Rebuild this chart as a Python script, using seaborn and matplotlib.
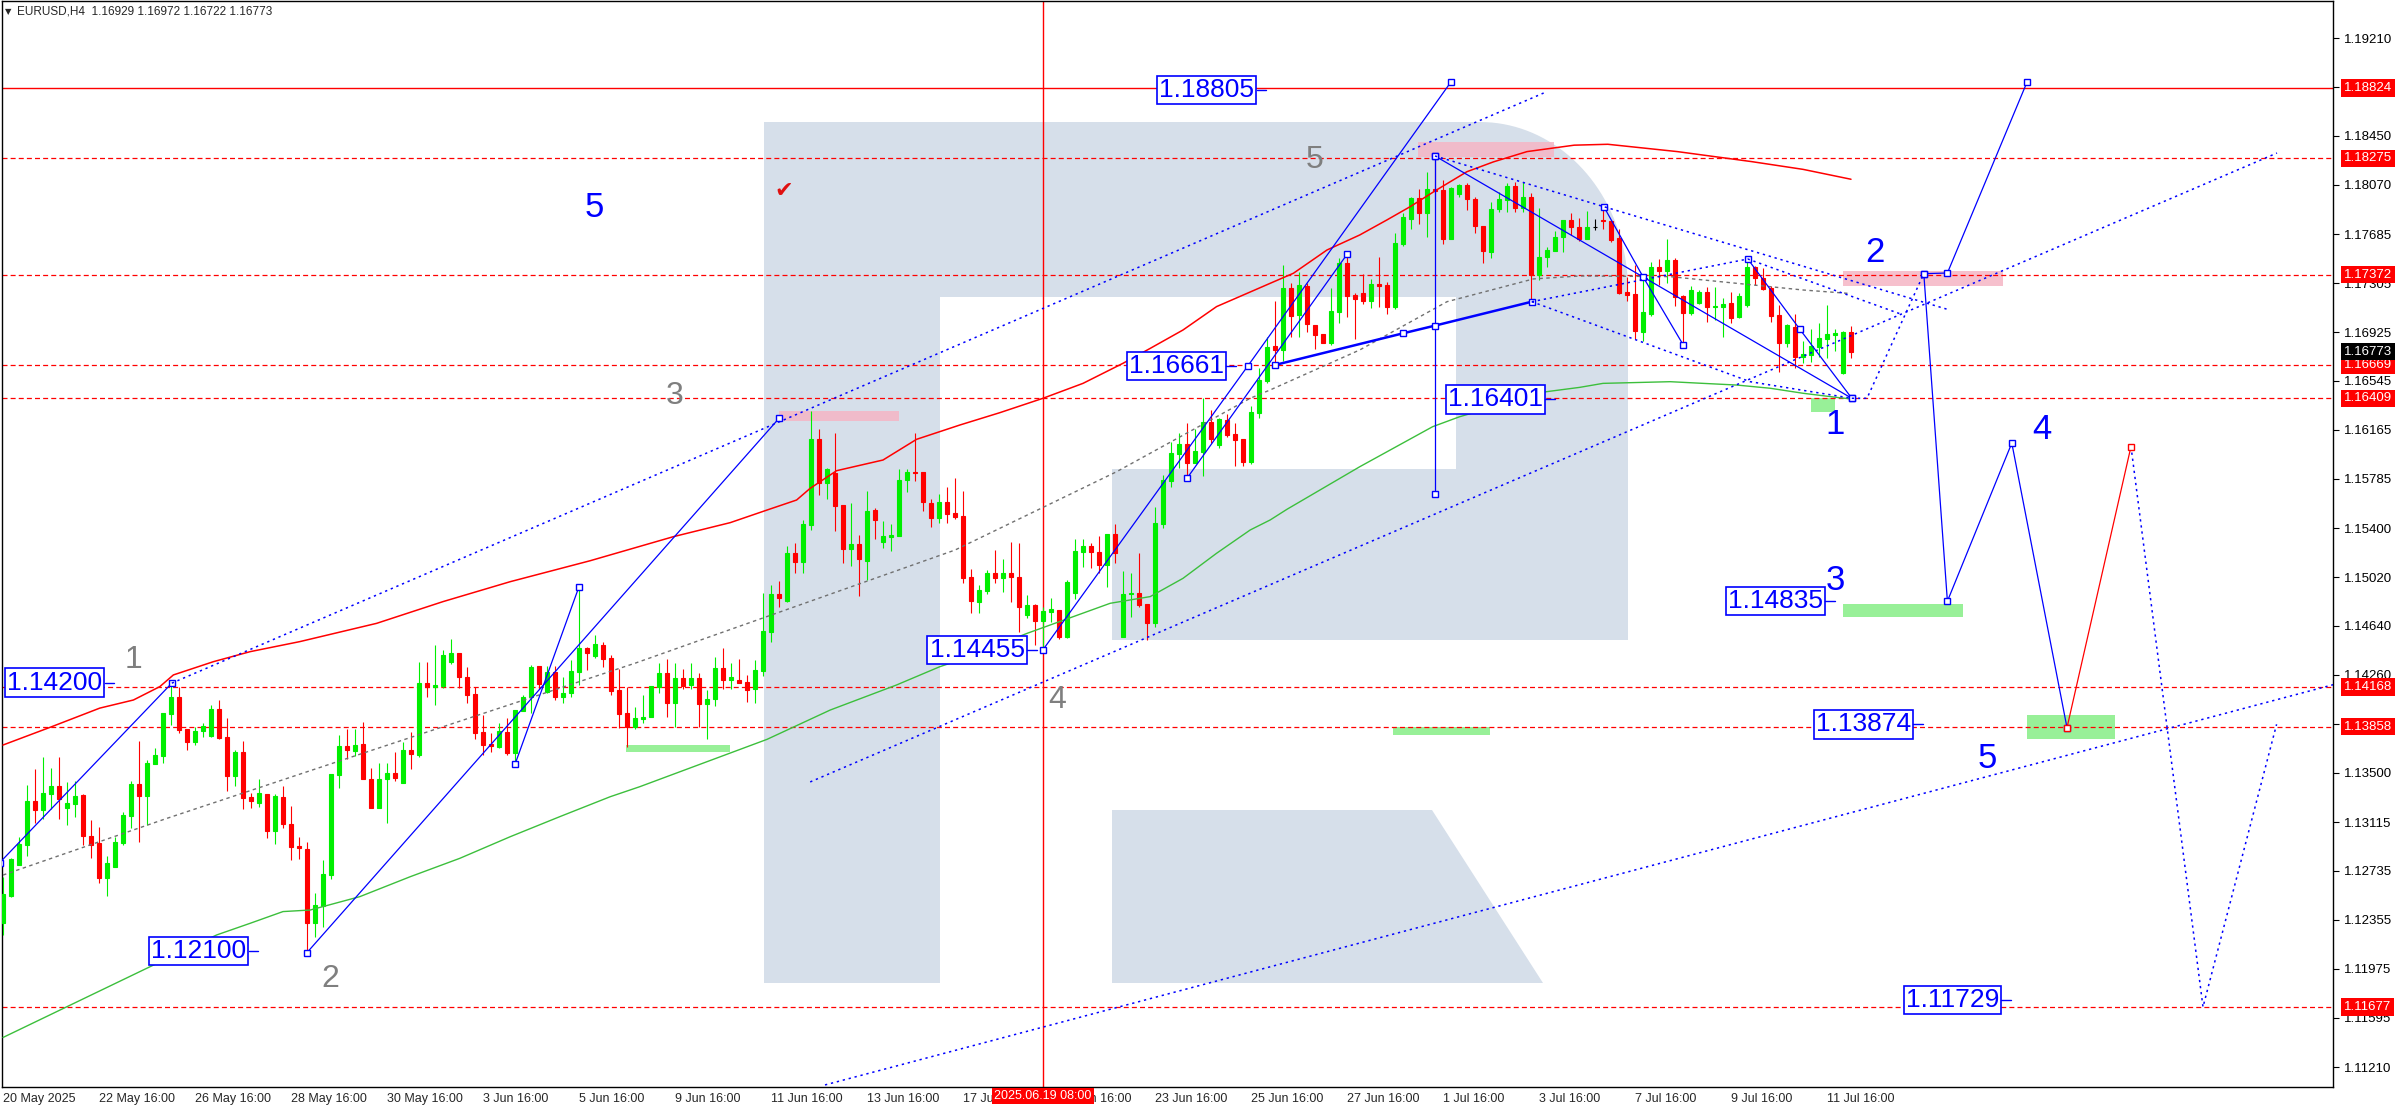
import numpy as np
import pandas as pd
import matplotlib
matplotlib.use("Agg")
import matplotlib.pyplot as plt
import matplotlib.transforms as mtransforms
from matplotlib.patches import Polygon, Rectangle
import seaborn as sns

# EURUSD H4 bars, index 0 = 20 May 2025 16:00
opens = [
    1.12333, 1.12543, 1.12781, 1.12939, 1.13279, 1.13209, 1.13333, 1.13395, 1.13227, 1.13258,
    1.13325, 1.13007, 1.12950, 1.12680, 1.12765, 1.12952, 1.13162, 1.13411, 1.13318, 1.13569,
    1.13629, 1.13955, 1.14087, 1.13839, 1.13740, 1.13823, 1.13784, 1.13992, 1.13774, 1.13473,
    1.13657, 1.13310, 1.13266, 1.13333, 1.13048, 1.13310, 1.13100, 1.12926, 1.12903, 1.12333,
    1.12465, 1.12703, 1.13481, 1.13706, 1.13668, 1.13722, 1.13450, 1.13227, 1.13450, 1.13494,
    1.13421, 1.13675, 1.13636, 1.14194, 1.14168, 1.14173, 1.14362, 1.14427, 1.14240, 1.14111,
    1.13813, 1.13725, 1.13701, 1.13818, 1.13655, 1.13981, 1.14085, 1.14329, 1.14129, 1.14284,
    1.14090, 1.14116, 1.14284, 1.14471, 1.14406, 1.14492, 1.14393, 1.14142, 1.13960, 1.13857,
    1.13919, 1.13929, 1.14168, 1.14271, 1.14043, 1.14238, 1.14181, 1.14238, 1.14031, 1.14069,
    1.14316, 1.14220, 1.14220, 1.14204, 1.14147, 1.14292, 1.14596, 1.14888, 1.14834, 1.15204,
    1.15137, 1.15425, 1.16094, 1.15749, 1.15832, 1.15580, 1.15238, 1.15277, 1.15145, 1.15541,
    1.15295, 1.15334, 1.15339, 1.15775, 1.15840, 1.15840, 1.15598, 1.15482, 1.15601, 1.15516,
    1.15495, 1.15018, 1.14829, 1.14914, 1.15054, 1.15010, 1.15054, 1.15018, 1.14725, 1.14803,
    1.14681, 1.14751, 1.14764, 1.14556, 1.14893, 1.15218, 1.15262, 1.15218, 1.15114, 1.15355,
    1.14556, 1.14886, 1.14899, 1.14811, 1.14665, 1.15433, 1.15770, 1.15977, 1.16055, 1.15910,
    1.15995, 1.16228, 1.16047, 1.16241, 1.16132, 1.16094, 1.15917, 1.16298, 1.16545, 1.16817,
    1.16786, 1.17270, 1.17058, 1.17283, 1.16980, 1.16910, 1.16837, 1.17084, 1.17465, 1.17213,
    1.17231, 1.17169, 1.17299, 1.17291, 1.17122, 1.17610, 1.17804, 1.17970, 1.17853, 1.18037,
    1.18030, 1.17646, 1.17996, 1.18069, 1.17957, 1.17750, 1.17550, 1.17879, 1.17952, 1.18061,
    1.17887, 1.17973, 1.17369, 1.17511, 1.17558, 1.17662, 1.17796, 1.17739, 1.17649, 1.17739,
    1.17796, 1.17789, 1.17654, 1.17234, 1.17221, 1.16928, 1.17065, 1.17428, 1.17402, 1.17485,
    1.17205, 1.17076, 1.17148, 1.17237, 1.17117, 1.17123, 1.17148, 1.17040, 1.17135, 1.17428,
    1.17348, 1.17270, 1.17058, 1.16843, 1.16967, 1.16734, 1.16747, 1.16812, 1.16871, 1.16902,
    1.16609, 1.16929,
]
highs = [
    1.12690, 1.12832, 1.13001, 1.13403, 1.13528, 1.13618, 1.13538, 1.13618, 1.13424, 1.13437,
    1.13330, 1.13131, 1.13079, 1.12851, 1.12996, 1.13196, 1.13437, 1.13745, 1.13598, 1.13688,
    1.13966, 1.14181, 1.14168, 1.13839, 1.13852, 1.13883, 1.14025, 1.14064, 1.13922, 1.13675,
    1.13748, 1.13344, 1.13447, 1.13333, 1.13333, 1.13398, 1.13240, 1.12996, 1.12963, 1.12566,
    1.12820, 1.13489, 1.13792, 1.13836, 1.13836, 1.13890, 1.13533, 1.13577, 1.13577, 1.13657,
    1.13740, 1.13813, 1.14362, 1.14362, 1.14492, 1.14453, 1.14539, 1.14427, 1.14323, 1.14168,
    1.13947, 1.13810, 1.13888, 1.13922, 1.13986, 1.14103, 1.14336, 1.14329, 1.14329, 1.14329,
    1.14246, 1.14375, 1.14945, 1.14480, 1.14570, 1.14518, 1.14414, 1.14305, 1.14163, 1.14007,
    1.14103, 1.14173, 1.14349, 1.14380, 1.14349, 1.14302, 1.14349, 1.14277, 1.14142, 1.14396,
    1.14466, 1.14354, 1.14380, 1.14258, 1.14375, 1.14893, 1.14958, 1.14989, 1.15264, 1.15282,
    1.15464, 1.16311, 1.16171, 1.15865, 1.16138, 1.15580, 1.15593, 1.15347, 1.15689, 1.15554,
    1.15456, 1.15433, 1.15860, 1.15858, 1.16138, 1.15840, 1.15624, 1.15666, 1.15718, 1.15788,
    1.15692, 1.15080, 1.14958, 1.15075, 1.15230, 1.15160, 1.15290, 1.15282, 1.14880, 1.14811,
    1.14790, 1.14860, 1.14764, 1.14997, 1.15313, 1.15313, 1.15282, 1.15339, 1.15355, 1.15433,
    1.15067, 1.15054, 1.15205, 1.14811, 1.15567, 1.15814, 1.16073, 1.16138, 1.16215, 1.16169,
    1.16410, 1.16319, 1.16254, 1.16288, 1.16215, 1.16094, 1.16350, 1.16643, 1.16889, 1.17167,
    1.17446, 1.17304, 1.17395, 1.17309, 1.16980, 1.16910, 1.17265, 1.17498, 1.17524, 1.17231,
    1.17376, 1.17335, 1.17506, 1.17317, 1.17698, 1.17848, 1.17978, 1.18035, 1.18167, 1.18294,
    1.18107, 1.18050, 1.18076, 1.18087, 1.17978, 1.17750, 1.17939, 1.18017, 1.18087, 1.18089,
    1.18089, 1.18004, 1.17887, 1.17589, 1.17711, 1.17796, 1.17853, 1.17809, 1.17869, 1.17804,
    1.17900, 1.17795, 1.17724, 1.17356, 1.17447, 1.17374, 1.17472, 1.17491, 1.17646, 1.17498,
    1.17213, 1.17283, 1.17252, 1.17278, 1.17278, 1.17193, 1.17239, 1.17231, 1.17491, 1.17435,
    1.17421, 1.17283, 1.17135, 1.16985, 1.17066, 1.16856, 1.16946, 1.16998, 1.17135, 1.16949,
    1.16930, 1.16972,
]
lows = [
    1.12237, 1.12535, 1.12781, 1.12851, 1.13110, 1.13136, 1.13214, 1.13136, 1.13092, 1.13157,
    1.12937, 1.12838, 1.12644, 1.12540, 1.12765, 1.12937, 1.13071, 1.12963, 1.13092, 1.13569,
    1.13577, 1.13870, 1.13810, 1.13675, 1.13714, 1.13774, 1.13779, 1.13758, 1.13359, 1.13395,
    1.13217, 1.13222, 1.13235, 1.12994, 1.12942, 1.13066, 1.12820, 1.12825, 1.12100, 1.12224,
    1.12296, 1.12670, 1.13382, 1.13603, 1.13629, 1.13447, 1.13222, 1.13222, 1.13110, 1.13437,
    1.13421, 1.13528, 1.13624, 1.14085, 1.14025, 1.14155, 1.14344, 1.14155, 1.14043, 1.13758,
    1.13636, 1.13662, 1.13688, 1.13636, 1.13577, 1.13981, 1.13960, 1.14147, 1.14121, 1.14064,
    1.14038, 1.14085, 1.14181, 1.14297, 1.14393, 1.14323, 1.14103, 1.13844, 1.13701, 1.13836,
    1.13888, 1.13929, 1.14116, 1.13934, 1.13851, 1.14150, 1.14150, 1.13851, 1.13758, 1.14020,
    1.14147, 1.14147, 1.14194, 1.14051, 1.14043, 1.14251, 1.14518, 1.14784, 1.14829, 1.15054,
    1.15049, 1.15386, 1.15658, 1.15624, 1.15381, 1.15132, 1.15109, 1.14875, 1.14997, 1.15316,
    1.15248, 1.15225, 1.15339, 1.15684, 1.15770, 1.15536, 1.15412, 1.15443, 1.15443, 1.15469,
    1.14976, 1.14738, 1.14738, 1.14886, 1.14971, 1.14906, 1.14829, 1.14595, 1.14699, 1.14492,
    1.14455, 1.14668, 1.14536, 1.14543, 1.14847, 1.15101, 1.15088, 1.15049, 1.14940, 1.15127,
    1.14556, 1.14712, 1.14790, 1.14531, 1.14634, 1.15399, 1.15718, 1.15865, 1.15788, 1.15905,
    1.15809, 1.16060, 1.16026, 1.16106, 1.15884, 1.15884, 1.15899, 1.16259, 1.16526, 1.16661,
    1.16700, 1.16889, 1.16889, 1.16928, 1.16793, 1.16837, 1.16824, 1.16998, 1.17045, 1.16868,
    1.17143, 1.17109, 1.17122, 1.17065, 1.17102, 1.17594, 1.17726, 1.17765, 1.17667, 1.17957,
    1.17607, 1.17646, 1.17978, 1.17874, 1.17693, 1.17459, 1.17498, 1.17861, 1.17861, 1.17861,
    1.17861, 1.17154, 1.17330, 1.17433, 1.17555, 1.17550, 1.17680, 1.17636, 1.17646, 1.17719,
    1.17724, 1.17628, 1.17221, 1.17169, 1.16869, 1.16856, 1.17050, 1.17291, 1.17309, 1.17128,
    1.16824, 1.17058, 1.17143, 1.17006, 1.17019, 1.16884, 1.16998, 1.17032, 1.17123, 1.17291,
    1.17252, 1.17006, 1.16617, 1.16806, 1.16643, 1.16682, 1.16695, 1.16729, 1.16726, 1.16780,
    1.16596, 1.16722,
]
closes = [
    1.12556, 1.12828, 1.12944, 1.13279, 1.13209, 1.13338, 1.13395, 1.13292, 1.13261, 1.13318,
    1.13007, 1.12939, 1.12680, 1.12794, 1.12963, 1.13170, 1.13411, 1.13318, 1.13574, 1.13636,
    1.13966, 1.14087, 1.13831, 1.13740, 1.13823, 1.13862, 1.13992, 1.13766, 1.13473, 1.13657,
    1.13305, 1.13279, 1.13338, 1.13048, 1.13320, 1.13097, 1.12924, 1.12916, 1.12333, 1.12470,
    1.12711, 1.13489, 1.13706, 1.13675, 1.13714, 1.13447, 1.13222, 1.13450, 1.13494, 1.13460,
    1.13675, 1.13642, 1.14194, 1.14168, 1.14181, 1.14414, 1.14427, 1.14240, 1.14103, 1.13810,
    1.13714, 1.13709, 1.13823, 1.13649, 1.13986, 1.14090, 1.14318, 1.14189, 1.14284, 1.14090,
    1.14121, 1.14290, 1.14471, 1.14432, 1.14500, 1.14383, 1.14137, 1.13955, 1.13852, 1.13921,
    1.13934, 1.14173, 1.14271, 1.14043, 1.14238, 1.14176, 1.14238, 1.14031, 1.14072, 1.14316,
    1.14220, 1.14240, 1.14199, 1.14142, 1.14297, 1.14601, 1.14888, 1.14860, 1.15204, 1.15140,
    1.15433, 1.16094, 1.15754, 1.15860, 1.15573, 1.15238, 1.15277, 1.15158, 1.15534, 1.15464,
    1.15339, 1.15347, 1.15775, 1.15840, 1.15832, 1.15606, 1.15482, 1.15601, 1.15510, 1.15490,
    1.15015, 1.14836, 1.14919, 1.15054, 1.15010, 1.15054, 1.15018, 1.14790, 1.14803, 1.14681,
    1.14756, 1.14769, 1.14556, 1.14984, 1.15223, 1.15262, 1.15218, 1.15114, 1.15355, 1.15210,
    1.14888, 1.14899, 1.14803, 1.14665, 1.15438, 1.15775, 1.15982, 1.16055, 1.15910, 1.16000,
    1.16228, 1.16094, 1.16246, 1.16125, 1.16086, 1.15917, 1.16301, 1.16552, 1.16812, 1.16786,
    1.17270, 1.17052, 1.17291, 1.16988, 1.16902, 1.16837, 1.17089, 1.17465, 1.17208, 1.17182,
    1.17167, 1.17299, 1.17286, 1.17122, 1.17620, 1.17822, 1.17970, 1.17853, 1.18037, 1.18024,
    1.17646, 1.18043, 1.18069, 1.17957, 1.17750, 1.17558, 1.17879, 1.17957, 1.18061, 1.17887,
    1.17973, 1.17369, 1.17511, 1.17563, 1.17662, 1.17796, 1.17739, 1.17649, 1.17739, 1.17739,
    1.17792, 1.17641, 1.17226, 1.17213, 1.16933, 1.17078, 1.17428, 1.17402, 1.17485, 1.17200,
    1.17076, 1.17252, 1.17237, 1.17117, 1.17128, 1.17141, 1.17037, 1.17206, 1.17428, 1.17343,
    1.17260, 1.17050, 1.16843, 1.16980, 1.16734, 1.16754, 1.16817, 1.16879, 1.16910, 1.16915,
    1.16928, 1.16773,
]

# indicator lines (bar index, price)
red_ma_x = [0, 5.9, 12.1, 16.3, 19.6, 21.3, 26.3, 30.9, 37.1, 46.7, 55, 63.4, 73.4, 83.8, 90.9,
            95.5, 99.2, 100.9, 104.2, 110, 114.2, 119.6, 124.6, 130, 135, 140, 143.4, 147.5,
            151.7, 158.4, 161.3, 165.5, 169.6, 173, 175.9, 179.2, 183, 186.3, 190.5, 196.4,
            200.6, 209.3, 218.6, 225, 231]
red_ma_y = [1.13714, 1.13852, 1.14001, 1.14064, 1.14168, 1.14259, 1.14362, 1.14440, 1.14518,
            1.14660, 1.14829, 1.14984, 1.15147, 1.15334, 1.15443, 1.15541, 1.15619, 1.15710,
            1.15847, 1.15930, 1.16091, 1.16202, 1.16298, 1.16410, 1.16526, 1.16682, 1.16798,
            1.16941, 1.17123, 1.17304, 1.17382, 1.17563, 1.17680, 1.17797, 1.17900, 1.18030,
            1.18172, 1.18248, 1.18328, 1.18378, 1.18385, 1.18328, 1.18250, 1.18190, 1.18113]
green_ma_x = [0, 17.5, 26.7, 30.9, 35, 38.4, 44.6, 50.9, 57.1, 63.4, 69.6, 75.9, 79.6, 95.5,
              103.4, 111.7, 117.1, 119.6, 128, 138.4, 143.4, 147.5, 151.7, 155.9, 158.4, 160.5,
              169.6, 178.7, 182.1, 192.9, 197.1, 200, 208.4, 212.5, 216.7, 220.9, 225, 229.2, 231]
green_ma_y = [1.11440, 1.11964, 1.12237, 1.12328, 1.12419, 1.12431, 1.12535, 1.12690, 1.12833,
              1.13001, 1.13157, 1.13312, 1.13390, 1.13758, 1.13986, 1.14181, 1.14323, 1.14375,
              1.14582, 1.14816, 1.14868, 1.15010, 1.15205, 1.15386, 1.15464, 1.15547, 1.15878,
              1.16189, 1.16267, 1.16461, 1.16495, 1.16526, 1.16539, 1.16526, 1.16513, 1.16488,
              1.16449, 1.16417, 1.16405]
gray_ma_x = [0, 20.5, 40.9, 79.0, 119, 139.2, 155.9, 158.4, 169.6, 180.5, 191.3, 197.1, 208.4,
             216.7, 225, 230.6]
gray_ma_y = [1.12703, 1.13144, 1.13566, 1.14350, 1.15230, 1.15839, 1.16410, 1.16475, 1.16786,
             1.17161, 1.17338, 1.17361, 1.17356, 1.17304, 1.17252, 1.17226]

# levels and axes
level_solid = 1.18824
levels_dashed = [1.18275, 1.17372, 1.16669, 1.16409, 1.14168, 1.13858, 1.11677]
last_price = 1.16773
price_ticks = [1.19210, 1.18830, 1.18450, 1.18070, 1.17685, 1.17305, 1.16925, 1.16545, 1.16165,
               1.15785, 1.15400, 1.15020, 1.14640, 1.14260, 1.13880, 1.13500, 1.13115, 1.12735,
               1.12355, 1.11975, 1.11595, 1.11210]
time_labels = ["20 May 2025", "22 May 16:00", "26 May 16:00", "28 May 16:00", "30 May 16:00",
               "3 Jun 16:00", "5 Jun 16:00", "9 Jun 16:00", "11 Jun 16:00", "13 Jun 16:00",
               "17 Jun 16:00", "19 Jun 16:00", "23 Jun 16:00", "25 Jun 16:00", "27 Jun 16:00",
               "1 Jul 16:00", "3 Jul 16:00", "7 Jul 16:00", "9 Jul 16:00", "11 Jul 16:00"]
time_label_bars = list(range(0, 229, 12))
marker_bar = 130
marker_label = "2025.06.19 08:00"

# wave drawings (bar index, price)
solid_waves = [
    [(-0.4, 1.12800), (21.1, 1.14195)],
    [(38, 1.12100), (97, 1.16254)],
    [(64, 1.13564), (72, 1.14945)],
    [(130, 1.14455), (155.6, 1.16661), (181, 1.18870)],
    [(148, 1.15788), (168, 1.17529)],
    [(179, 1.18294), (179, 1.15666)],
    [(179, 1.18294), (231.1, 1.16410)],
    [(200.1, 1.17900), (205, 1.17355), (210, 1.16828)],
    [(218.1, 1.17493), (224.6, 1.16947), (231.1, 1.16410)],
    [(240.1, 1.17379), (243.05, 1.14832), (251.1, 1.16062), (258, 1.13849)],
    [(240.1, 1.17379), (243.05, 1.17384), (253, 1.18868)],
]
thick_wave = [(159, 1.16669), (175, 1.16915), (179, 1.16975), (191.1, 1.17161)]
dotted_lines = [
    [(21.1, 1.14195), (192.9, 1.18792)],
    [(100.9, 1.13427), (284.25, 1.18317)],
    [(102.75, 1.11071), (292, 1.14195)],
    [(179, 1.18294), (200.1, 1.17900), (243.3, 1.17097)],
    [(191.1, 1.17161), (218.1, 1.17493), (237.4, 1.17061)],
    [(191.1, 1.17161), (218.4, 1.16539), (231.1, 1.16410)],
    [(231.1, 1.16410), (233, 1.16410), (240.1, 1.17379)],
    [(266, 1.16035), (275, 1.11677), (284.2, 1.13875)],
]
red_wave = [(258, 1.13849), (266, 1.16035)]

# shaded zones: (bar from, bar to, price low, price high)
pink_zones = [(97, 112, 1.16234, 1.16311), (176.9, 193.9, 1.18289, 1.18405),
              (230.05, 249.96, 1.17280, 1.17400)]
green_zones = [(226, 229, 1.16301, 1.16410), (230.05, 245, 1.14708, 1.14812),
               (253, 264, 1.13763, 1.13945), (77.9, 90.9, 1.13658, 1.13713),
               (173.75, 185.9, 1.13791, 1.13854)]

# boxed price labels: (text, bar of box right edge, price)
box_labels = [("1.18805", 156.4, 1.18805), ("1.16661", 152.6, 1.16661), ("1.16401", 192.5, 1.16401),
              ("1.14200", 12.4, 1.14200), ("1.14455", 127.7, 1.14455), ("1.12100", 30.4, 1.12110),
              ("1.14835", 227.5, 1.14835), ("1.13874", 238.5, 1.13874), ("1.11729", 249.5, 1.11729)]
gray_numbers = [("1", 16.3, 1.14375), ("2", 40.9, 1.11895), ("3", 83.9, 1.16429),
                ("4", 131.8, 1.14064), ("5", 163.9, 1.18263)]
blue_numbers = [("5", 73.9, 1.17891), ("1", 229, 1.16203), ("2", 234, 1.17540),
                ("3", 229, 1.14990), ("4", 254.9, 1.16164), ("5", 248, 1.13609)]

W, H = 2396, 1110
BLUE = "#0000ff"
RED = "#ff0000"

sns.set_style("white")
plt.rcParams["font.family"] = ["Liberation Sans", "DejaVu Sans"]

fig = plt.figure(figsize=(W / 100, H / 100), dpi=100)
ax = fig.add_axes([2 / W, 23 / H, 2331 / W, 1086 / H])
ax.set_xlim(-0.125, 291.25)
ax.set_ylim(1.11055, 1.19499)


def fpx(x, y):
    return (x / W, 1 - y / H)


# background logo (watermark)
logo_col = "#d6dfea"
t = np.linspace(np.pi / 2, 0, 40)
arc = [fpx(1480 + 148 * np.cos(a), 290 - 168 * np.sin(a)) for a in t]
bowl = [fpx(940, 122)] + arc + [fpx(1628, 640), fpx(1112, 640), fpx(1112, 469),
                                 fpx(1456, 469), fpx(1456, 297), fpx(940, 297)]
stem = [fpx(764, 122), fpx(940, 122), fpx(940, 983), fpx(764, 983)]
leg = [fpx(1112, 810), fpx(1432, 810), fpx(1543, 983), fpx(1112, 983)]
for pts in (bowl, stem, leg):
    ax.add_patch(Polygon(pts, closed=True, transform=fig.transFigure, fc=logo_col,
                         ec="none", zorder=0.5))

# zones
for x0, x1, lo, hi in pink_zones:
    ax.add_patch(Rectangle((x0, lo), x1 - x0, hi - lo, fc="#f5b5c5", ec="none",
                           alpha=0.85, zorder=1))
for x0, x1, lo, hi in green_zones:
    ax.add_patch(Rectangle((x0, lo), x1 - x0, hi - lo, fc="#98f098", ec="none", zorder=1))

# levels
ax.axhline(level_solid, color=RED, lw=1.0, zorder=2)
for lv in levels_dashed:
    ax.axhline(lv, color=RED, lw=0.9, ls=(0, (4, 2.5)), zorder=2)
ax.axvline(marker_bar, color=RED, lw=1.0, zorder=2)

# candles
df = pd.DataFrame({"bar": np.arange(len(closes)), "open": opens, "high": highs,
                   "low": lows, "close": closes})
cols = np.where(df["close"] > df["open"], "#00ee00",
                np.where(df["close"] < df["open"], RED, "black"))
ax.vlines(df["bar"], df["low"], df["high"], colors=cols, lw=0.8, zorder=3)
ax.bar(df["bar"], df["close"] - df["open"], bottom=df["open"], width=0.5, color=cols,
       edgecolor=cols, lw=0.8, zorder=3)

# indicators
sns.lineplot(x=gray_ma_x, y=gray_ma_y, ax=ax, color="#707070", lw=1.0, sort=False,
             estimator=None, zorder=4)
ax.lines[-1].set_linestyle((0, (2.5, 2.5)))
sns.lineplot(x=green_ma_x, y=green_ma_y, ax=ax, color="#3cbf3c", lw=1.0, sort=False,
             estimator=None, zorder=4)
sns.lineplot(x=red_ma_x, y=red_ma_y, ax=ax, color=RED, lw=1.1, sort=False,
             estimator=None, zorder=4)

# wave drawings
mk = dict(marker="s", ms=4, mfc="white", mec=BLUE, mew=1.0)
for seg in solid_waves:
    xs, ys = zip(*seg)
    ax.plot(xs, ys, color=BLUE, lw=0.9, zorder=5, **mk)
xs, ys = zip(*thick_wave)
ax.plot(xs, ys, color=BLUE, lw=1.8, zorder=5, **mk)
for seg in dotted_lines:
    xs, ys = zip(*seg)
    ax.plot(xs, ys, color=BLUE, lw=1.1, ls=(0, (1.5, 2.5)), zorder=5)
xs, ys = zip(*red_wave)
ax.plot(xs, ys, color=RED, lw=0.9, zorder=5, marker="s", ms=4, mfc="white", mec=RED, mew=1.0)

# boxed blue price labels with short stubs
for txt, xr, p in box_labels:
    ax.text(xr, p, txt, ha="right", va="center", fontsize=19, color=BLUE, zorder=7,
            bbox=dict(boxstyle="square,pad=0.08", fc="white", ec=BLUE, lw=1.2))
    ax.plot([xr + 0.3, xr + 1.5], [p, p], color=BLUE, lw=1.0, zorder=7)

for txt, x, p in gray_numbers:
    ax.text(x, p, txt, ha="center", va="center", fontsize=23, color="#7f7f7f", zorder=6)
for txt, x, p in blue_numbers:
    ax.text(x, p, txt, ha="center", va="center", fontsize=25, color=BLUE, zorder=6)
ax.text(97.6, 1.18022, "\u2714", ha="center", va="center", fontsize=16, color="#e01010",
        family="DejaVu Sans", zorder=6)

# axes styling
for s in ax.spines.values():
    s.set_color("black")
    s.set_linewidth(1.0)
ax.yaxis.tick_right()
ax.set_yticks(price_ticks)
ax.set_yticklabels([f"{v:.5f}" for v in price_ticks])
ax.tick_params(axis="y", direction="out", length=4, width=0.8, pad=4, labelsize=9.5,
               colors="black")
ax.set_xticks(time_label_bars)
ax.set_xticklabels(time_labels)
for lbl in ax.get_xticklabels():
    lbl.set_ha("left")
ax.tick_params(axis="x", direction="out", length=3, width=0.8, pad=1.5, labelsize=9)
ax.set_xlabel("")
ax.set_ylabel("")

# right-axis level boxes
ytrans = mtransforms.blended_transform_factory(ax.transAxes, ax.transData)
for lv in [level_solid] + levels_dashed:
    ax.text(1.0045, lv, f"{lv:.5f}", transform=ytrans, ha="left", va="center", fontsize=9.5,
            color="white", clip_on=False, zorder=8,
            bbox=dict(boxstyle="square,pad=0.22", fc=RED, ec="none"))
ax.text(1.0045, last_price, f"{last_price:.5f}", transform=ytrans, ha="left", va="center",
        fontsize=9.5, color="white", clip_on=False, zorder=8,
        bbox=dict(boxstyle="square,pad=0.22", fc="black", ec="none"))

xtrans = mtransforms.blended_transform_factory(ax.transData, ax.transAxes)
ax.text(marker_bar, -0.0085, marker_label, transform=xtrans, ha="center", va="center",
        fontsize=9, color="white", clip_on=False, zorder=8,
        bbox=dict(boxstyle="square,pad=0.15", fc=RED, ec="none"))

# header
fig.text(*fpx(5, 12), "\u25bc", fontsize=6, va="center", family="DejaVu Sans")
fig.text(*fpx(17, 12), "EURUSD,H4  1.16929 1.16972 1.16722 1.16773", fontsize=8.5,
         va="center")

fig.savefig("out.png", dpi=100, facecolor="white")
